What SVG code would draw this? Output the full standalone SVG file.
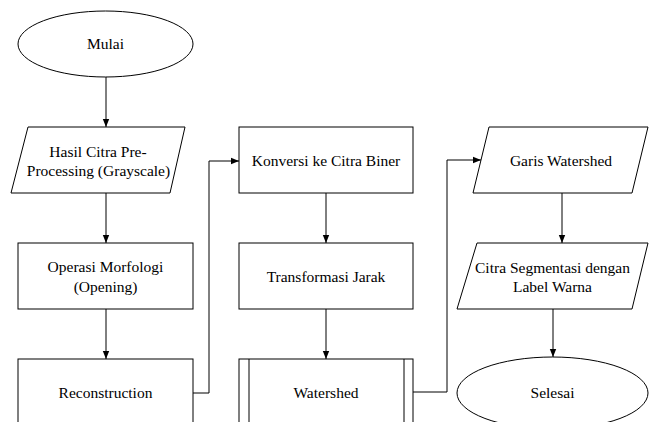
<svg xmlns="http://www.w3.org/2000/svg" width="653" height="422" viewBox="0 0 653 422">
<style>
.s{fill:#fff;stroke:#000;stroke-width:1}
.t{font-family:'Liberation Serif','Tinos','DejaVu Serif','Times New Roman',Times,serif;font-size:15.5px;fill:#000;text-anchor:middle}
.c{fill:none;stroke:#000;stroke-width:1}
</style>
<defs>
<marker id="a" viewBox="0 0 8 8" refX="8" refY="4" markerWidth="8" markerHeight="8" markerUnits="userSpaceOnUse" orient="auto">
<path d="M0,0.8 L8,4 L0,7.2 Z" fill="#000"/>
</marker>
</defs>
<rect width="653" height="422" fill="#fff"/>
<g id="connectors">
<path class="c" d="M106,77 V127" marker-end="url(#a)"/>
<path class="c" d="M106,193 V243" marker-end="url(#a)"/>
<path class="c" d="M106,309 V359" marker-end="url(#a)"/>
<path class="c" d="M193,393 H209 V161 H239" marker-end="url(#a)"/>
<path class="c" d="M326,193 V243" marker-end="url(#a)"/>
<path class="c" d="M326,309 V359" marker-end="url(#a)"/>
<path class="c" d="M413,392 H447 V160 H481" marker-end="url(#a)"/>
<path class="c" d="M562,193 V243" marker-end="url(#a)"/>
<path class="c" d="M553,309 V357" marker-end="url(#a)"/>
</g>
<g id="mulai">
<ellipse class="s" cx="105.5" cy="44" rx="87.5" ry="33"/>
<text class="t" x="105.5" y="49">Mulai</text>
</g>
<g id="hasil">
<polygon class="s" points="28,127 185,127 170,193 11,193"/>
<text class="t" x="98" y="157">Hasil Citra Pre-</text>
<text class="t" x="98.5" y="176">Processing (Grayscale)</text>
</g>
<g id="operasi">
<rect class="s" x="18" y="243" width="175" height="66"/>
<text class="t" x="105.5" y="272">Operasi Morfologi</text>
<text class="t" x="105.5" y="292">(Opening)</text>
</g>
<g id="reconstruction">
<rect class="s" x="18" y="359" width="175" height="80"/>
<text class="t" x="105.5" y="398">Reconstruction</text>
</g>
<g id="konversi">
<rect class="s" x="239" y="127" width="174" height="66"/>
<text class="t" x="326" y="166">Konversi ke Citra Biner</text>
</g>
<g id="transformasi">
<rect class="s" x="239" y="243" width="174" height="66"/>
<text class="t" x="326" y="282">Transformasi Jarak</text>
</g>
<g id="watershed">
<rect class="s" x="239" y="359" width="174" height="80"/>
<line class="c" x1="249" y1="359" x2="249" y2="439"/>
<line class="c" x1="404" y1="359" x2="404" y2="439"/>
<text class="t" x="326" y="398">Watershed</text>
</g>
<g id="garis">
<polygon class="s" points="489,127 648,127 632,193 473,193"/>
<text class="t" x="561" y="166">Garis Watershed</text>
</g>
<g id="citra">
<polygon class="s" points="477,243 648,243 632,309 457,309"/>
<text class="t" x="552.5" y="273">Citra Segmentasi dengan</text>
<text class="t" x="552.5" y="292">Label Warna</text>
</g>
<g id="selesai">
<ellipse class="s" cx="552.5" cy="393" rx="95.5" ry="36"/>
<text class="t" x="552.5" y="398">Selesai</text>
</g>
</svg>
